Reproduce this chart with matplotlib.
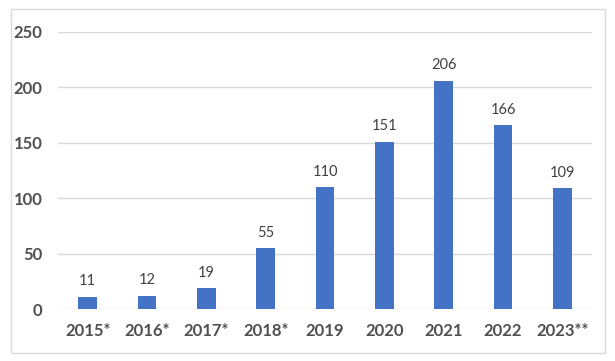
import matplotlib.pyplot as plt
from matplotlib.patches import Rectangle

categories = ["2015*", "2016*", "2017*", "2018*", "2019", "2020", "2021", "2022", "2023**"]
values = [11, 12, 19, 55, 110, 151, 206, 166, 109]
yticks = [0, 50, 100, 150, 200, 250]

plt.rcParams['font.family'] = ['Lato', 'DejaVu Sans']

fig = plt.figure(figsize=(6.15, 3.61), dpi=100)
fig.patches.append(Rectangle((11/615, 1-353/361), 594/615, 344/361, transform=fig.transFigure,
                             fill=False, edgecolor='#d9d9d9', linewidth=1.0))
ax = fig.add_axes([58/615, 1-309/361, 534/615, 277/361])

x = range(len(categories))
bars = ax.bar(x, values, width=0.315, color='#4472C4', zorder=3)
for xi, v in zip(x, values):
    ax.annotate(str(v), (xi, v), xytext=(0, 6), textcoords='offset points',
                ha='center', va='bottom', fontsize=10.5, color='#404040')

ax.set_xlim(-0.5, len(categories) - 0.5)
ax.set_ylim(0, 250)
ax.set_yticks(yticks)
ax.set_xticks(list(x))
ax.set_xticklabels(categories)
ax.yaxis.grid(True, color='#d9d9d9', linewidth=1.0, zorder=0)
ax.set_axisbelow(True)
for s in ax.spines.values():
    s.set_visible(False)
ax.tick_params(axis='both', length=0, labelsize=12, labelcolor='#505050')
ax.tick_params(axis='y', pad=11)
ax.tick_params(axis='x', pad=10)
for lbl in ax.get_xticklabels() + ax.get_yticklabels():
    lbl.set_fontweight('bold')

fig.savefig('out.png', dpi=100)
